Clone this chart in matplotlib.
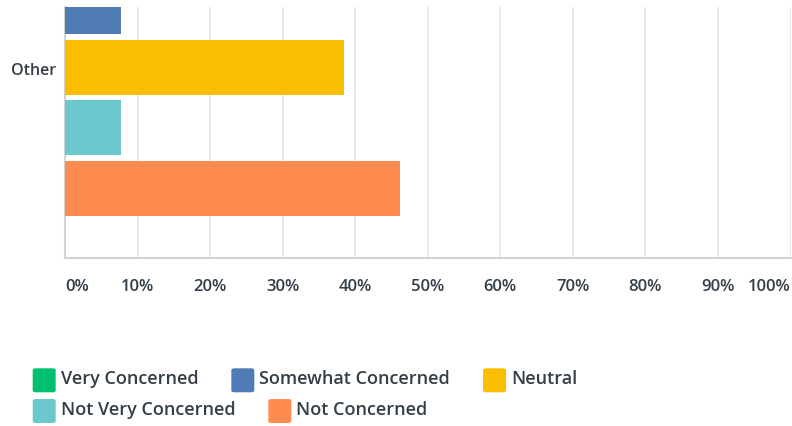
import matplotlib
matplotlib.use("Agg")
import matplotlib.pyplot as plt
from matplotlib.patches import FancyBboxPatch
import numpy as np

categories = ["Other"]
series = ["Very Concerned", "Somewhat Concerned", "Neutral",
          "Not Very Concerned", "Not Concerned"]
values = [0.0, 7.69, 38.46, 7.69, 46.15]   # percent for "Other"
colors = ["#00BF6F", "#507CB6", "#F9BE00", "#6BC8CD", "#FF8B4F"]
xticks = [0, 10, 20, 30, 40, 50, 60, 70, 80, 90, 100]

text_color = "#333E48"
plt.rcParams["font.family"] = ["Open Sans", "DejaVu Sans"]

fig = plt.figure(figsize=(7.92, 4.26), dpi=100)
W, H = 792, 426
ax = fig.add_axes([65 / W, 1 - 257.7 / H, (790.5 - 65) / W, (257.7 - 7) / H])

# one bar per series, stacked downward inside the single category
pos = np.arange(len(series))
ax.barh(pos, values, height=0.91, color=colors, zorder=3)

ax.set_xlim(0, 100)
ax.set_ylim(5.15, 1.0)
ax.set_yticks([2.03])
ax.set_yticklabels(categories, fontsize=11.5, fontweight="semibold", color=text_color)
ax.set_xticks(xticks)
ax.set_xticklabels([f"{t}%" for t in xticks], fontsize=12,
                   fontweight="semibold", color=text_color)
ax.tick_params(axis="both", length=0)
ax.tick_params(axis="x", pad=15)
ax.tick_params(axis="y", pad=6.3)
labels = ax.get_xticklabels()
labels[0].set_ha("left")
labels[-1].set_ha("right")

ax.grid(axis="x", color="#E6E6E6", linewidth=1.2, zorder=0)
for s in ["top", "right"]:
    ax.spines[s].set_visible(False)
for s in ["left", "bottom"]:
    ax.spines[s].set_color("#D3D3D3")
    ax.spines[s].set_linewidth(1.5)

# legend laid out in rows like the original web widget
rows = [[0, 1, 2], [3, 4]]
row_y = [380.3, 411]
renderer = fig.canvas.get_renderer()
for r, idxs in enumerate(rows):
    x = 32.7
    for i in idxs:
        yc = row_y[r]
        fig.patches.append(FancyBboxPatch(
            (x / W, 1 - (yc + 12) / H), 23 / W, 24 / H,
            boxstyle="round,pad=0,rounding_size=0.004",
            transform=fig.transFigure, facecolor=colors[i], edgecolor="none"))
        t = fig.text((x + 28) / W, 1 - (yc - 1) / H, series[i], fontsize=13,
                     fontweight="semibold", color=text_color, va="center")
        w = t.get_window_extent(renderer).width
        x = x + 28 + w + 33

fig.savefig("out.png", dpi=100)
